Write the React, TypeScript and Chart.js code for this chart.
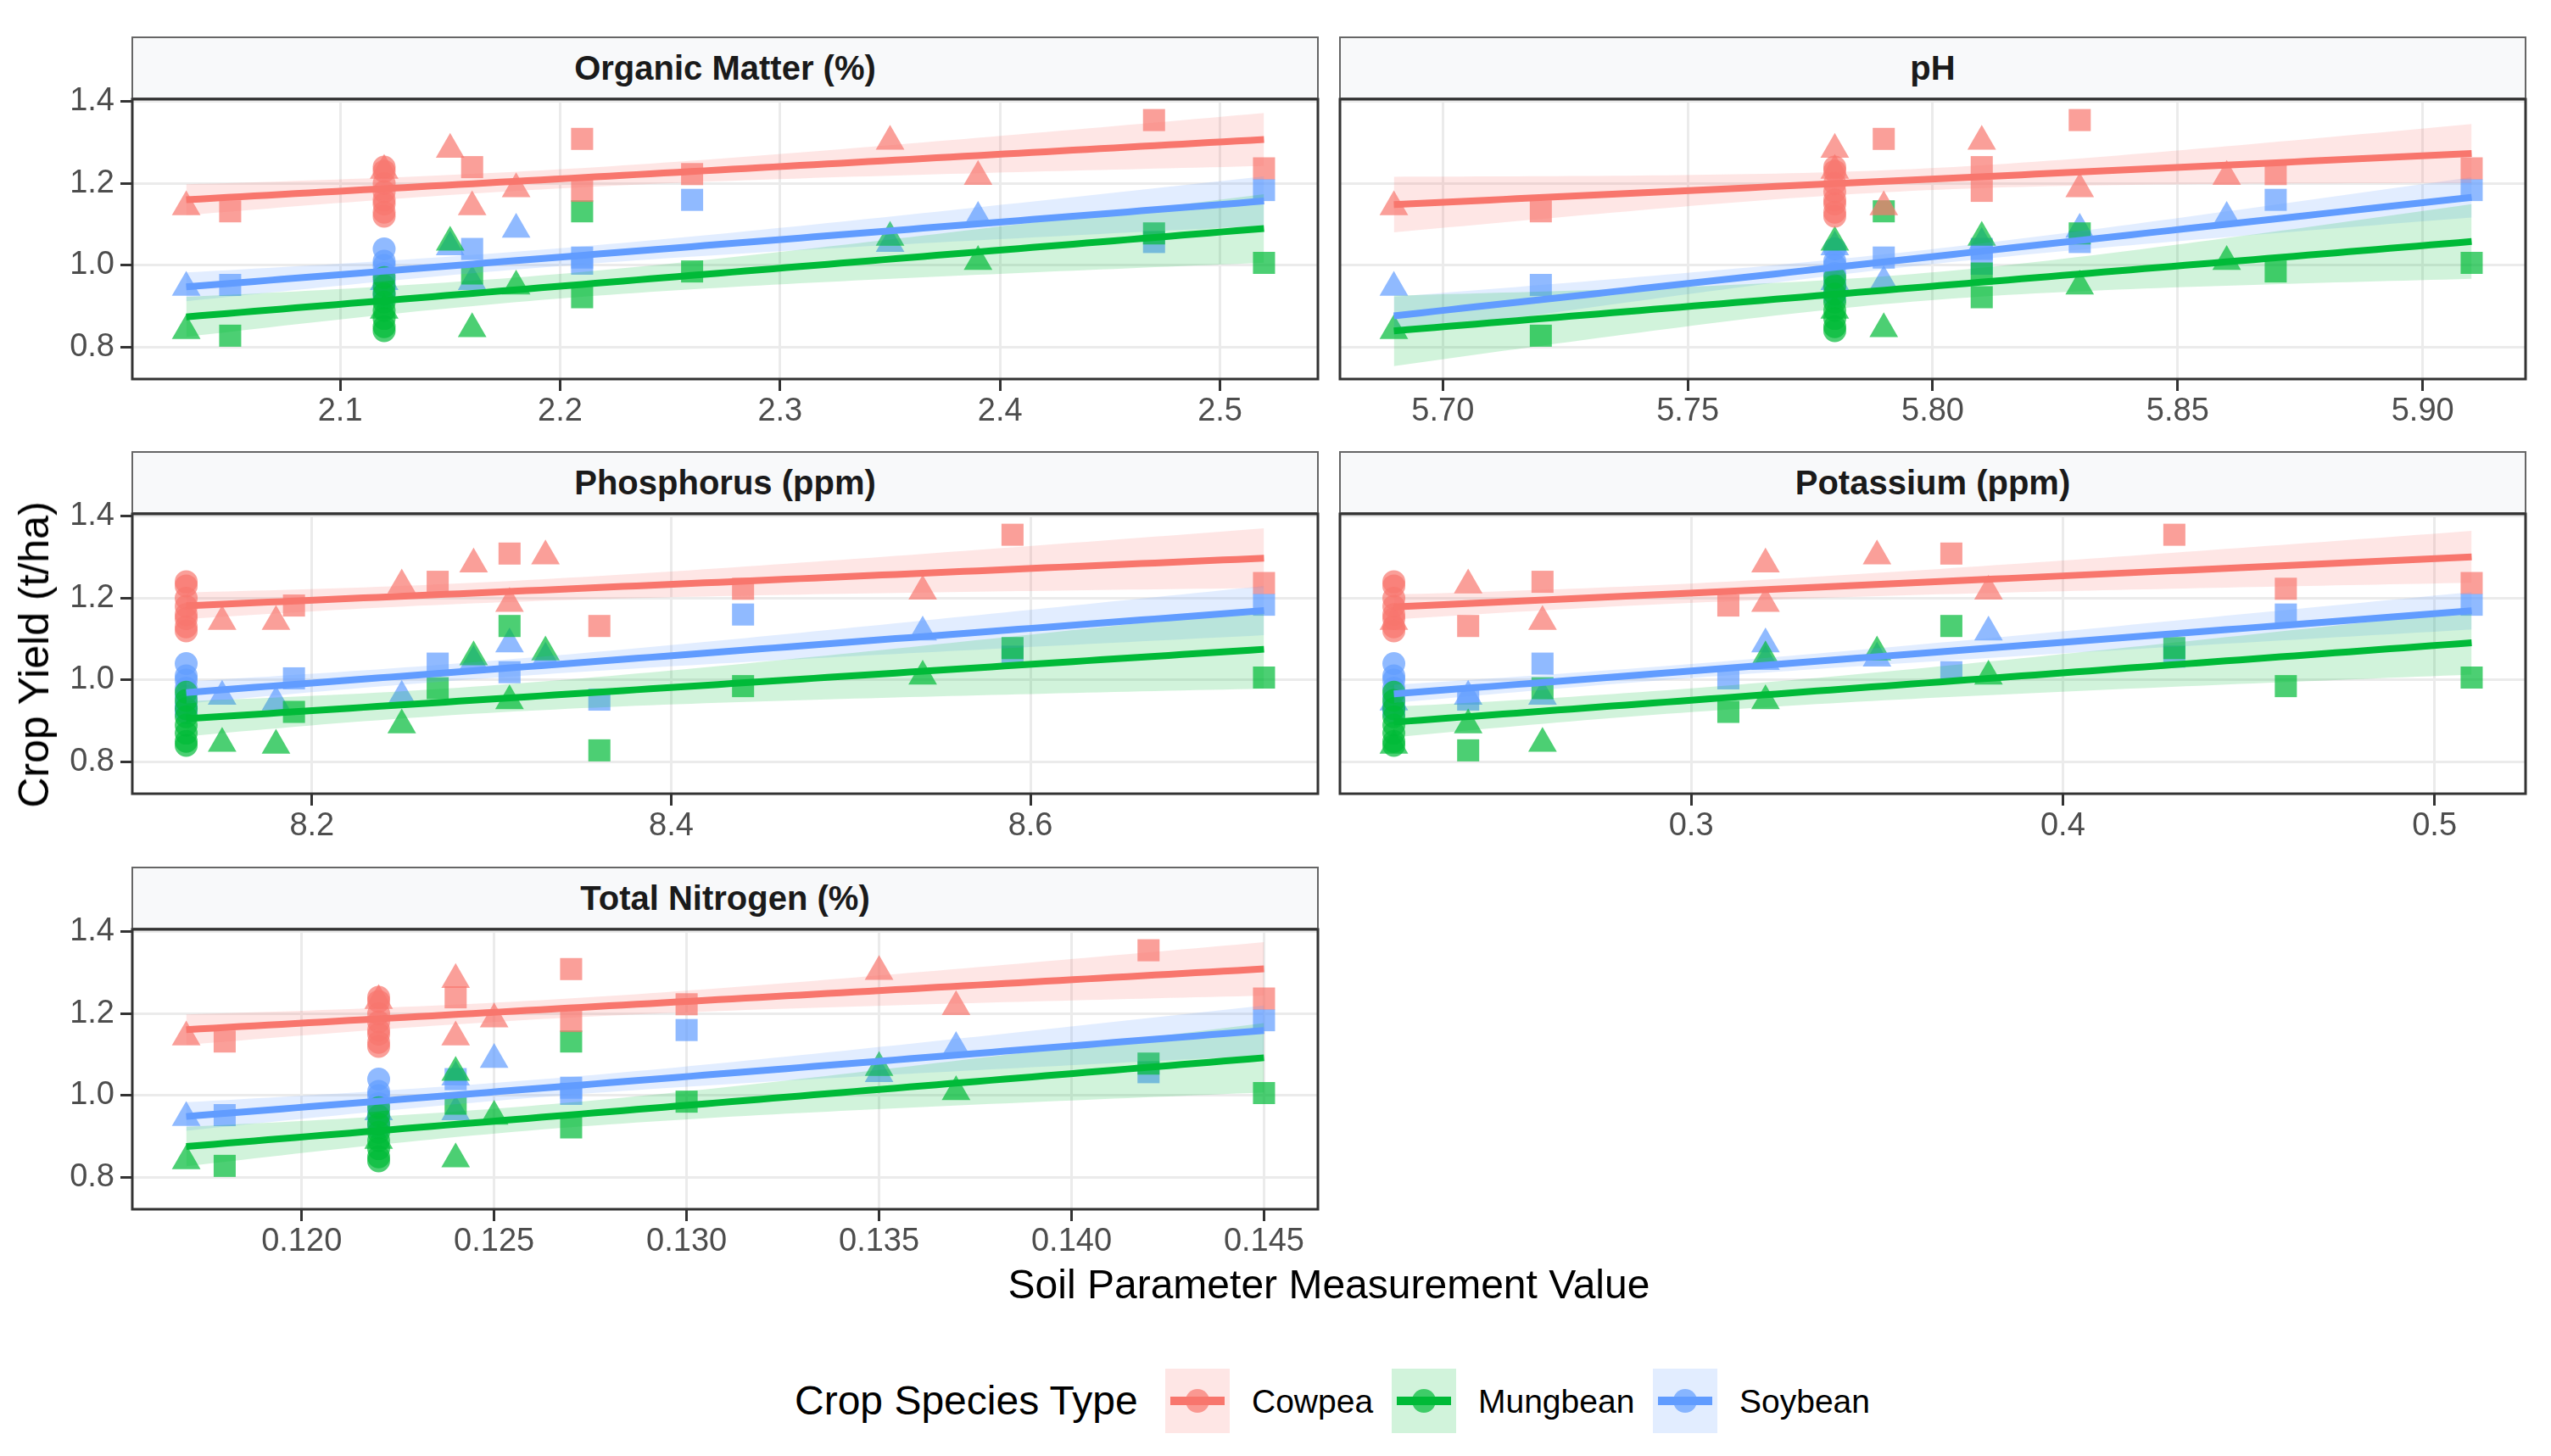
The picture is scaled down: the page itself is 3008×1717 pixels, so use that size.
import React, { useEffect, useRef } from "react";
import { Chart, registerables } from "chart.js";

Chart.register(...registerables);

const FONT = "'Liberation Sans', Arial, Helvetica, sans-serif";

// ---------------- data ----------------
const SPECIES = ["Cowpea", "Mungbean", "Soybean"];
const SPECIES_COLORS = ["#F8766D", "#00BA38", "#619CFF"];
const SOIL_PARAMETERS = ["Organic Matter (%)", "pH", "Phosphorus (ppm)", "Potassium (ppm)", "Total Nitrogen (%)"];

// field plots, each with its own soil sample (triangle / square markers)
const PLOT_MARKER = ["triangle", "square", "triangle", "square", "triangle", "triangle", "square", "square", "square", "triangle", "triangle", "triangle", "square", "square"];
const PLOT_OM = [2.03, 2.05, 2.15, 2.16, 2.16, 2.18, 2.21, 2.21, 2.26, 2.12, 2.35, 2.39, 2.47, 2.52];
const PLOT_PH = [5.69, 5.72, 5.78, 5.81, 5.79, 5.83, 5.79, 5.81, 5.87, 5.78, 5.81, 5.86, 5.83, 5.91];
const PLOT_P = [8.18, 8.36, 8.29, 8.27, 8.15, 8.31, 8.31, 8.19, 8.44, 8.25, 8.33, 8.54, 8.59, 8.73];
const PLOT_K = [0.22, 0.24, 0.32, 0.26, 0.26, 0.32, 0.37, 0.31, 0.46, 0.24, 0.35, 0.38, 0.43, 0.51];
const PLOT_N = [0.117, 0.118, 0.124, 0.124, 0.124, 0.125, 0.127, 0.127, 0.13, 0.122, 0.135, 0.137, 0.142, 0.145];
const PLOT_YIELD_COWPEA = [1.143, 1.132, 1.283, 1.24, 1.143, 1.187, 1.309, 1.182, 1.223, 1.232, 1.303, 1.217, 1.355, 1.237];
const PLOT_YIELD_MUNGBEAN = [0.84, 0.828, 1.056, 0.98, 0.845, 0.949, 1.132, 0.922, 0.985, 0.89, 1.068, 1.009, 1.078, 1.006];
const PLOT_YIELD_SOYBEAN = [0.946, 0.952, 1.045, 1.04, 0.96, 1.088, 1.019, 1.004, 1.16, 0.96, 1.053, 1.117, 1.057, 1.184];

// reference plot (circle markers): one soil sample, repeated yields
const REF_SOIL = [2.12, 5.78, 8.13, 0.22, 0.122];
const REF_YIELD_COWPEA = [1.24, 1.23, 1.2, 1.18, 1.16, 1.15, 1.13, 1.12];
const REF_YIELD_MUNGBEAN = [0.97, 0.95, 0.93, 0.91, 0.89, 0.87, 0.85, 0.84];
const REF_YIELD_SOYBEAN = [1.04, 1.01, 1.0, 0.98, 0.96, 0.94, 0.93, 0.92];

const X_TICKS = [
  [2.1, 2.2, 2.3, 2.4, 2.5],
  [5.7, 5.75, 5.8, 5.85, 5.9],
  [8.2, 8.4, 8.6],
  [0.3, 0.4, 0.5],
  [0.12, 0.125, 0.13, 0.135, 0.14, 0.145],
];
const X_TICK_DECIMALS = [1, 2, 1, 1, 3];
const Y_TICKS = [0.8, 1.0, 1.2, 1.4];
const Y_LIMITS = [0.722, 1.406];

const PLOT_SOIL = [PLOT_OM, PLOT_PH, PLOT_P, PLOT_K, PLOT_N];
const PLOT_YIELDS = [PLOT_YIELD_COWPEA, PLOT_YIELD_MUNGBEAN, PLOT_YIELD_SOYBEAN];
const REF_YIELDS = [REF_YIELD_COWPEA, REF_YIELD_MUNGBEAN, REF_YIELD_SOYBEAN];

// ---------------- layout ----------------
const PLOT_W = 1398;
const PLOT_H = 330;
const STRIP_H = 74;
const COL_LEFT = [156, 1580];
const ROW_TOP = [117, 606, 1096];
const PAD_T = 30;
const PAD_R = 40;
const X_AXIS_H = 72;
const Y_AXIS_W = [150, 20];

const GRID_COLOR = "#EBEBEB";
const AXIS_COLOR = "#333333";
const TICK_TEXT = "#4D4D4D";
const TICK_FONT = 38;

function rgba(hex: string, a: number) {
  const n = parseInt(hex.slice(1), 16);
  return `rgba(${(n >> 16) & 255},${(n >> 8) & 255},${n & 255},${a})`;
}

function tQuantile975(df: number) {
  const z = 1.959964;
  const z3 = z ** 3, z5 = z ** 5, z7 = z ** 7;
  return (
    z +
    (z3 + z) / (4 * df) +
    (5 * z5 + 16 * z3 + 3 * z) / (96 * df * df) +
    (3 * z7 + 19 * z5 + 17 * z3 - 15 * z) / (384 * df ** 3)
  );
}

function linearFit(xs: number[], ys: number[]) {
  const n = xs.length;
  const mx = xs.reduce((a, b) => a + b, 0) / n;
  const my = ys.reduce((a, b) => a + b, 0) / n;
  let sxx = 0, sxy = 0;
  for (let i = 0; i < n; i++) {
    sxx += (xs[i] - mx) ** 2;
    sxy += (xs[i] - mx) * (ys[i] - my);
  }
  const b = sxy / sxx;
  const a = my - b * mx;
  let sse = 0;
  for (let i = 0; i < n; i++) sse += (ys[i] - (a + b * xs[i])) ** 2;
  const s2 = sse / (n - 2);
  const t = tQuantile975(n - 2);
  const lo = Math.min(...xs), hi = Math.max(...xs);
  const fit: { x: number; y: number }[] = [];
  const lower: { x: number; y: number }[] = [];
  const upper: { x: number; y: number }[] = [];
  const steps = 80;
  for (let k = 0; k < steps; k++) {
    const x = lo + ((hi - lo) * k) / (steps - 1);
    const yh = a + b * x;
    const se = Math.sqrt(s2 * (1 / n + (x - mx) ** 2 / sxx));
    fit.push({ x, y: yh });
    lower.push({ x, y: yh - t * se });
    upper.push({ x, y: yh + t * se });
  }
  return { fit, lower, upper };
}

function speciesPoints(panel: number, s: number) {
  const pts: { x: number; y: number; marker: string }[] = [];
  REF_YIELDS[s].forEach((y) => pts.push({ x: REF_SOIL[panel], y, marker: "circle" }));
  PLOT_YIELDS[s].forEach((y, i) => pts.push({ x: PLOT_SOIL[panel][i], y, marker: PLOT_MARKER[i] }));
  return pts;
}

const MARKER_STYLE: Record<string, string> = { circle: "circle", triangle: "triangle", square: "rect" };
const MARKER_RADIUS: Record<string, number> = { circle: 13.5, triangle: 19.5, square: 18.4 };

const borderPlugin = {
  id: "panelBorder",
  afterDraw(chart: any) {
    const { ctx, chartArea: a } = chart;
    ctx.save();
    ctx.strokeStyle = AXIS_COLOR;
    ctx.lineWidth = 3;
    ctx.strokeRect(a.left, a.top, a.right - a.left, a.bottom - a.top);
    ctx.restore();
  },
};

function geometry(i: number) {
  const col = i % 2;
  const row = Math.floor(i / 2);
  const plotLeft = COL_LEFT[col];
  const plotTop = ROW_TOP[row];
  const yW = Y_AXIS_W[col];
  return {
    col,
    plotLeft,
    plotTop,
    yW,
    canvasLeft: plotLeft - yW,
    canvasTop: plotTop - PAD_T,
    canvasW: yW + PLOT_W + PAD_R,
    canvasH: PAD_T + PLOT_H + X_AXIS_H,
  };
}

function Panel({ index }: { index: number }) {
  const ref = useRef<HTMLCanvasElement>(null);
  const g = geometry(index);

  useEffect(() => {
    if (!ref.current) return;
    const datasets: any[] = [];
    const allX: number[] = [REF_SOIL[index], ...PLOT_SOIL[index]];
    const xmin = Math.min(...allX), xmax = Math.max(...allX);
    const xr = xmax - xmin;

    SPECIES.forEach((name, s) => {
      const color = SPECIES_COLORS[s];
      const pts = speciesPoints(index, s);
      const f = linearFit(pts.map((p) => p.x), pts.map((p) => p.y));
      datasets.push({
        label: name + " points",
        data: pts.map((p) => ({ x: p.x, y: p.y })),
        showLine: false,
        pointStyle: pts.map((p) => MARKER_STYLE[p.marker]),
        pointRadius: pts.map((p) => MARKER_RADIUS[p.marker]),
        pointHoverRadius: pts.map((p) => MARKER_RADIUS[p.marker]),
        pointBackgroundColor: rgba(color, 0.7),
        pointBorderWidth: 0,
        pointBorderColor: "rgba(0,0,0,0)",
        order: 3,
      });
      datasets.push({
        label: name + " lower",
        data: f.lower,
        borderWidth: 0,
        borderColor: "rgba(0,0,0,0)",
        pointRadius: 0,
        fill: false,
        order: 2,
      });
      datasets.push({
        label: name + " band",
        data: f.upper,
        borderWidth: 0,
        borderColor: "rgba(0,0,0,0)",
        pointRadius: 0,
        fill: "-1",
        backgroundColor: rgba(color, 0.18),
        order: 2,
      });
      datasets.push({
        label: name + " fit",
        data: f.fit,
        borderColor: color,
        borderWidth: 8,
        pointRadius: 0,
        fill: false,
        order: 1 - s * 0.1,
      });
    });

    const chart = new Chart(ref.current, {
      type: "line",
      data: { datasets },
      options: {
        responsive: false,
        animation: false,
        devicePixelRatio: 1,
        layout: { padding: { top: PAD_T, right: PAD_R, bottom: 0, left: 0 } },
        plugins: { legend: { display: false }, tooltip: { enabled: false } },
        elements: { line: { tension: 0 } },
        scales: {
          x: {
            type: "linear",
            min: xmin - 0.05 * xr,
            max: xmax + 0.05 * xr,
            afterBuildTicks: (s: any) => {
              s.ticks = X_TICKS[index].map((v) => ({ value: v }));
            },
            afterFit: (s: any) => {
              s.height = X_AXIS_H;
            },
            ticks: {
              autoSkip: false,
              maxRotation: 0,
              padding: 2,
              color: TICK_TEXT,
              font: { family: FONT, size: TICK_FONT },
              callback: (v: any) => Number(v).toFixed(X_TICK_DECIMALS[index]),
            },
            grid: {
              color: GRID_COLOR,
              lineWidth: 3,
              drawTicks: true,
              tickLength: 14,
              tickColor: AXIS_COLOR,
              tickWidth: 3,
            },
            border: { display: false },
          },
          y: {
            type: "linear",
            min: Y_LIMITS[0],
            max: Y_LIMITS[1],
            afterBuildTicks: (s: any) => {
              s.ticks = Y_TICKS.map((v) => ({ value: v }));
            },
            afterFit: (s: any) => {
              s.width = g.yW;
            },
            ticks: {
              display: g.col === 0,
              padding: 7,
              color: TICK_TEXT,
              font: { family: FONT, size: TICK_FONT },
              callback: (v: any) => Number(v).toFixed(1),
            },
            grid: {
              color: GRID_COLOR,
              lineWidth: 3,
              drawTicks: g.col === 0,
              tickLength: 14,
              tickColor: AXIS_COLOR,
              tickWidth: 3,
            },
            border: { display: false },
          },
        },
      } as any,
      plugins: [borderPlugin],
    });
    return () => chart.destroy();
  }, [index]);

  return (
    <>
      <div
        style={{
          position: "absolute",
          left: g.plotLeft - 1,
          top: g.plotTop - STRIP_H,
          width: PLOT_W + 2,
          height: STRIP_H,
          boxSizing: "border-box",
          border: "2px solid #666",
          background: "#F8F9FA",
          display: "flex",
          alignItems: "center",
          justifyContent: "center",
          fontFamily: FONT,
          fontWeight: "bold",
          fontSize: 40,
          color: "#1A1A1A",
        }}
      >
        {SOIL_PARAMETERS[index]}
      </div>
      <canvas
        ref={ref}
        width={g.canvasW}
        height={g.canvasH}
        style={{
          position: "absolute",
          left: g.canvasLeft,
          top: g.canvasTop,
          width: g.canvasW,
          height: g.canvasH,
        }}
      />
    </>
  );
}

const LEGEND_BOX_LEFT = [1374, 1641, 1949];
const LEGEND_LABEL_LEFT = [1476, 1743, 2051];

export default function App() {
  return (
    <div
      style={{
        position: "absolute",
        left: 0,
        top: 0,
        width: 3008,
        height: 1717,
        background: "#FFFFFF",
        overflow: "hidden",
        fontFamily: FONT,
      }}
    >
      {SOIL_PARAMETERS.map((_, i) => (
        <Panel key={i} index={i} />
      ))}

      {/* y axis title */}
      <div
        style={{
          position: "absolute",
          left: 40,
          top: 772,
          transform: "translate(-50%, -50%) rotate(-90deg)",
          whiteSpace: "nowrap",
          fontSize: 50,
          lineHeight: "50px",
          color: "#000",
        }}
      >
        Crop Yield (t/ha)
      </div>

      {/* x axis title */}
      <div
        style={{
          position: "absolute",
          left: 1567,
          top: 1515,
          transform: "translate(-50%, -50%)",
          whiteSpace: "nowrap",
          fontSize: 48,
          lineHeight: "48px",
          color: "#000",
        }}
      >
        Soil Parameter Measurement Value
      </div>

      {/* legend */}
      <div
        style={{
          position: "absolute",
          left: 937,
          top: 1652,
          transform: "translateY(-50%)",
          whiteSpace: "nowrap",
          fontSize: 48,
          lineHeight: "48px",
          color: "#000",
        }}
      >
        Crop Species Type
      </div>
      {SPECIES.map((name, s) => (
        <React.Fragment key={name}>
          <div
            style={{
              position: "absolute",
              left: LEGEND_BOX_LEFT[s],
              top: 1614,
              width: 76,
              height: 76,
              background: rgba(SPECIES_COLORS[s], 0.18),
            }}
          >
            <div
              style={{
                position: "absolute",
                left: 6,
                right: 6,
                top: 33,
                height: 10,
                background: SPECIES_COLORS[s],
              }}
            />
            <div
              style={{
                position: "absolute",
                left: 38 - 14,
                top: 38 - 14,
                width: 28,
                height: 28,
                borderRadius: "50%",
                background: rgba(SPECIES_COLORS[s], 0.7),
              }}
            />
          </div>
          <div
            style={{
              position: "absolute",
              left: LEGEND_LABEL_LEFT[s],
              top: 1652,
              transform: "translateY(-50%)",
              whiteSpace: "nowrap",
              fontSize: 39,
              lineHeight: "39px",
              color: "#000",
            }}
          >
            {name}
          </div>
        </React.Fragment>
      ))}
    </div>
  );
}
